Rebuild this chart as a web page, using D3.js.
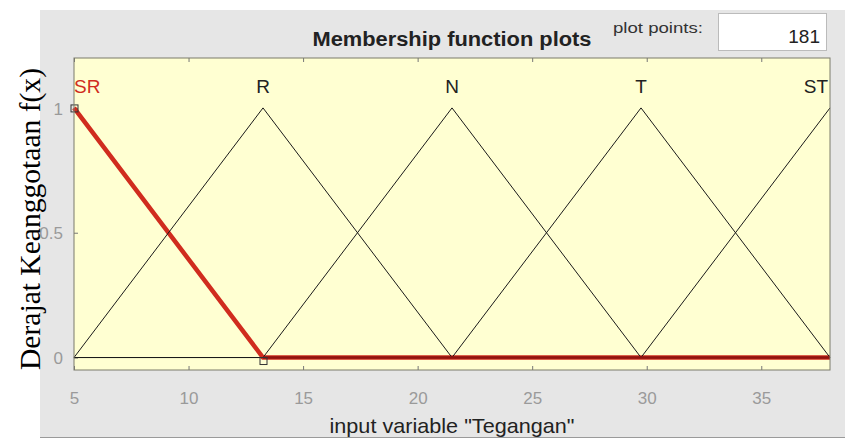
<!DOCTYPE html>
<html>
<head>
<meta charset="utf-8">
<script src="https://cdn.jsdelivr.net/npm/d3@7"></script>
<style>
  body { margin: 0; background: #fff; }
  svg { display: block; font-family: "Liberation Sans", Arial, sans-serif; }
</style>
</head>
<body>
<div id="chart"></div>
<script>
// membership functions of input "Tegangan" (trimf params a, b, c)
const mfNames = ["SR", "R", "N", "T", "ST"];
const mfParams = [
  [-3.25, 5, 13.25],
  [5, 13.25, 21.5],
  [13.25, 21.5, 29.75],
  [21.5, 29.75, 38],
  [29.75, 38, 46.25]
];
const selectedMf = 0;
const xDomain = [5, 38];
const yDomain = [-0.05, 1.2];
const xTicks = [5, 10, 15, 20, 25, 30, 35];
const yTicks = [0, 0.5, 1];
const plotPoints = 181;

const width = 845, height = 439;
const margin = { top: 58, right: 15, bottom: 69, left: 74 };

const svg = d3.select("#chart").append("svg")
  .attr("width", width)
  .attr("height", height);

// gray figure panel
svg.append("rect")
  .attr("x", 40).attr("y", 10)
  .attr("width", width - 40).attr("height", 427)
  .attr("fill", "#e6e6e6");
svg.append("line")
  .attr("x1", 40).attr("x2", width)
  .attr("y1", 437.5).attr("y2", 437.5)
  .attr("stroke", "#9a9a9a");

const x = d3.scaleLinear().domain(xDomain).range([margin.left, width - margin.right]);
const y = d3.scaleLinear().domain(yDomain).range([height - margin.bottom, margin.top]);

// plot area
svg.append("rect")
  .attr("x", x(xDomain[0])).attr("y", y(yDomain[1]))
  .attr("width", x(xDomain[1]) - x(xDomain[0]))
  .attr("height", y(yDomain[0]) - y(yDomain[1]))
  .attr("fill", "#ffffd2");

// axes
const bottomAxis = svg.append("g")
  .attr("transform", `translate(0,${y(yDomain[0])})`)
  .call(d3.axisBottom(x).tickValues(xTicks).tickSize(-4).tickSizeOuter(0).tickPadding(22));
const topAxis = svg.append("g")
  .attr("transform", `translate(0,${y(yDomain[1])})`)
  .call(d3.axisTop(x).tickValues(xTicks).tickSize(-4).tickSizeOuter(0).tickFormat(""));
const leftAxis = svg.append("g")
  .attr("transform", `translate(${x(xDomain[0])},0)`)
  .call(d3.axisLeft(y).tickValues(yTicks).tickSize(-4).tickSizeOuter(0).tickPadding(11)
    .tickFormat(d3.format("~g")));

[bottomAxis, topAxis, leftAxis].forEach(g => {
  g.select(".domain").remove();
  g.selectAll(".tick line").attr("stroke", "#777");
  g.selectAll(".tick text")
    .attr("fill", "#9a9a9a")
    .attr("font-size", 17)
    .attr("font-family", "'Liberation Sans', Arial, sans-serif");
});
leftAxis.selectAll(".tick text").attr("dy", "0.36em");

// membership function curves
const trimf = (v, p) => Math.max(0, Math.min((v - p[0]) / (p[1] - p[0]), (p[2] - v) / (p[2] - p[1])));
const line = d3.line().x(d => x(d[0])).y(d => y(d[1]));

const mfData = mfParams.map(p => {
  const xs = [xDomain[0], p[0], p[1], p[2], xDomain[1]]
    .filter(v => v >= xDomain[0] && v <= xDomain[1])
    .sort((a, b) => a - b);
  return Array.from(new Set(xs)).map(v => [v, trimf(v, p)]);
});

svg.append("path")
  .datum(mfData[selectedMf])
  .attr("d", line)
  .attr("fill", "none")
  .attr("stroke", "#d02c1e")
  .attr("stroke-width", 4.5)
  .attr("stroke-linejoin", "round");

mfData.forEach((d, i) => {
  if (i === selectedMf) return;
  svg.append("path")
    .datum(d)
    .attr("d", line)
    .attr("fill", "none")
    .attr("stroke", "#1a1a1a")
    .attr("stroke-width", 1);
});

// baseline of selected MF drawn darker where black lines overlap
svg.append("path")
  .datum(mfData[selectedMf].filter(d => d[1] === 0))
  .attr("d", line)
  .attr("fill", "none")
  .attr("stroke", "#8e1410")
  .attr("stroke-width", 2.5);

// selection handles
[[mfParams[selectedMf][1], 1], [mfParams[selectedMf][2], 0]].forEach(d => {
  svg.append("rect")
    .attr("x", x(d[0]) - 3).attr("y", y(d[1]) - 3 + (d[1] === 0 ? 3 : 0))
    .attr("width", 7).attr("height", 7)
    .attr("fill", "none")
    .attr("stroke", "#333")
    .attr("stroke-width", 1);
});

// plot border
svg.append("rect")
  .attr("x", x(xDomain[0])).attr("y", y(yDomain[1]))
  .attr("width", x(xDomain[1]) - x(xDomain[0]))
  .attr("height", y(yDomain[0]) - y(yDomain[1]))
  .attr("fill", "none")
  .attr("stroke", "#7a7a6a");

// MF name labels
mfNames.forEach((name, i) => {
  const px = Math.min(Math.max(mfParams[i][1], xDomain[0]), xDomain[1]);
  const anchor = px === xDomain[0] ? "start" : (px === xDomain[1] ? "end" : "middle");
  svg.append("text")
    .attr("x", x(px) + (anchor === "end" ? -2 : 0))
    .attr("y", y(1.1) + 10)
    .attr("text-anchor", anchor)
    .attr("fill", i === selectedMf ? "#d02c1e" : "#222")
    .style("font-size", "19px")
    .text(name);
});

// title
svg.append("text")
  .attr("x", 452).attr("y", 46)
  .attr("text-anchor", "middle")
  .attr("font-weight", "bold")
  .attr("fill", "#222")
  .attr("textLength", 279)
  .attr("lengthAdjust", "spacingAndGlyphs")
  .style("font-size", "20px")
  .text("Membership function plots");

// plot points control
svg.append("text")
  .attr("x", 613).attr("y", 33)
  .attr("fill", "#333")
  .attr("textLength", 90)
  .attr("lengthAdjust", "spacingAndGlyphs")
  .style("font-size", "15px")
  .text("plot points:");
svg.append("rect")
  .attr("x", 718.5).attr("y", 13.5)
  .attr("width", 108).attr("height", 37)
  .attr("fill", "#fff")
  .attr("stroke", "#bbb");
svg.append("text")
  .attr("x", 820).attr("y", 43)
  .attr("text-anchor", "end")
  .attr("fill", "#222")
  .style("font-size", "19px")
  .text(plotPoints);

// axis labels
svg.append("text")
  .attr("x", 452).attr("y", 433)
  .attr("text-anchor", "middle")
  .attr("fill", "#222")
  .attr("textLength", 245)
  .attr("lengthAdjust", "spacingAndGlyphs")
  .style("font-size", "21px")
  .text('input variable "Tegangan"');

svg.append("text")
  .attr("transform", "translate(40,219) rotate(-90)")
  .attr("text-anchor", "middle")
  .attr("fill", "#000")
  .attr("textLength", 302)
  .attr("lengthAdjust", "spacingAndGlyphs")
  .style("font-family", "'Liberation Serif', 'Times New Roman', serif")
  .style("font-size", "30px")
  .text("Derajat Keanggotaan f(x)");
</script>
</body>
</html>
